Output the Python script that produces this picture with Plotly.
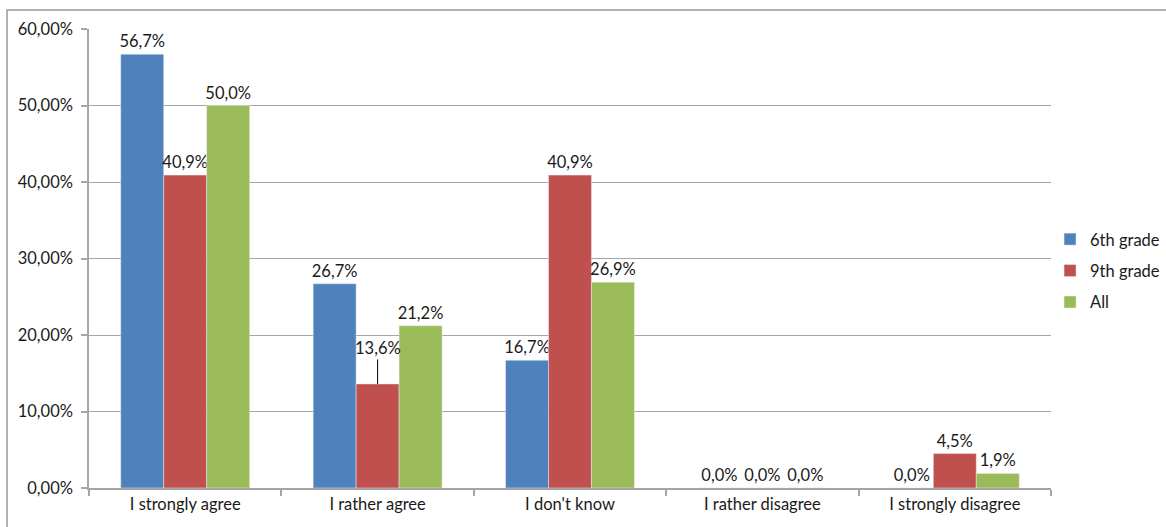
import plotly.graph_objects as go

# Survey answers per group, in percent
categories = ["I strongly agree", "I rather agree", "I don't know",
              "I rather disagree", "I strongly disagree"]
grade6 = [56.7, 26.7, 16.7, 0.0, 0.0]
grade9 = [40.9, 13.6, 40.9, 0.0, 4.5]
all_students = [50.0, 21.2, 26.9, 0.0, 1.9]
series_names = ["6th grade", "9th grade", "All"]
colors = ["#4F81BD", "#C0504D", "#9BBB59"]
y_ticks = [0, 10, 20, 30, 40, 50, 60]

FONT = "Lato"
FSIZE = 16.5
TXT = "#1a1a1a"
GRID = "#A6A6A6"


def pct(v, digits=1):
    return f"{v:.{digits}f}".replace(".", ",") + "%"


fig = go.Figure()
for name, vals, col in zip(series_names, [grade6, grade9, all_students], colors):
    texts = [pct(v) for v in vals]
    if name == "9th grade":
        # this label is moved above with a leader line
        texts[1] = ""
    fig.add_trace(go.Bar(
        x=categories, y=vals, name=name, marker_color=col,
        text=texts, textposition="outside", texttemplate="%{text}",
        textfont=dict(family=FONT, size=FSIZE, color=TXT),
        constraintext="none", cliponaxis=False, legendgroup=name,
    ))

# leader-line label for the 9th grade "I rather agree" bar
fig.add_annotation(
    x=categories[1], y=grade9[1], xref="x", yref="y",
    text=pct(grade9[1]), showarrow=True, arrowhead=0, arrowwidth=1,
    arrowcolor="#000000", ax=0, ay=-36, standoff=0,
    font=dict(family=FONT, size=FSIZE, color=TXT),
)

# outer chart frame
fig.add_shape(type="rect", xref="paper", yref="paper",
              x0=-0.0852, x1=1.3, y0=-0.3, y1=1.0413,
              line=dict(color="#9A9A9A", width=1.5), layer="below")

fig.update_layout(
    width=1166, height=527,
    margin=dict(l=89, r=115, t=29, b=38.5, autoexpand=False),
    paper_bgcolor="white", plot_bgcolor="white",
    separators=",.",
    barmode="group", bargap=0.33, bargroupgap=0,
    font=dict(family=FONT, size=FSIZE, color=TXT),
    showlegend=True,
    legend=dict(x=0.999, y=0.473, xanchor="left", yanchor="middle",
                font=dict(family=FONT, size=FSIZE, color=TXT),
                itemwidth=30, tracegroupgap=7, bgcolor="rgba(0,0,0,0)"),
    xaxis=dict(showline=True, linecolor=GRID, linewidth=1.5,
               ticks="outside", tickson="boundaries", ticklen=6,
               tickcolor=GRID, tickwidth=1.5, showgrid=False,
               tickfont=dict(family=FONT, size=FSIZE, color=TXT)),
    yaxis=dict(range=[0, 60], tickvals=y_ticks,
               ticktext=[pct(t, 2) for t in y_ticks],
               showline=True, linecolor=GRID, linewidth=1.5,
               ticks="outside", ticklen=6, tickcolor=GRID, tickwidth=1.5,
               ticklabelstandoff=5,
               showgrid=True, gridcolor=GRID, gridwidth=1.2,
               zeroline=False,
               tickfont=dict(family=FONT, size=FSIZE, color=TXT)),
)

fig.write_html("out.html")
